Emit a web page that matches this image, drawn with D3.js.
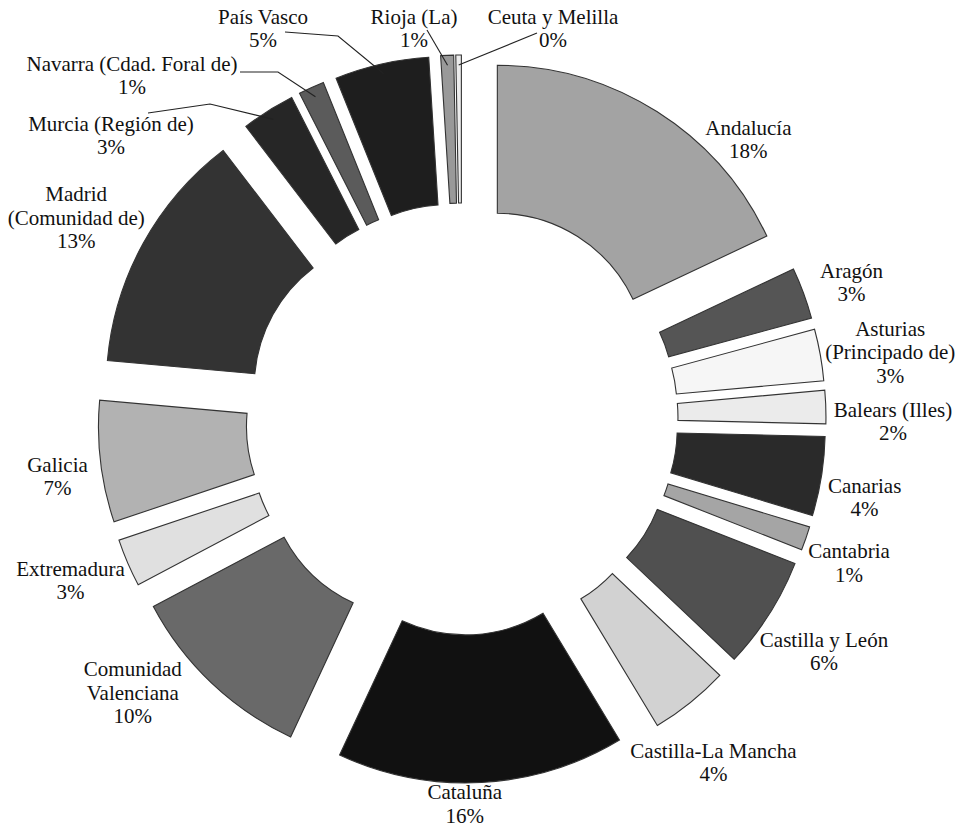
<!DOCTYPE html>
<meta charset="utf-8">
<style>

body {
  margin: 0;
  background: #fff;
}

text {
  font-family: "Liberation Serif", "Times New Roman", serif;
  font-size: 21px;
  fill: #111;
}

.slice {
  stroke: #333;
  stroke-width: 1.1;
}

.leader {
  fill: none;
  stroke: #222;
  stroke-width: 1.1;
}

</style>
<body>
<script src="https://d3js.org/d3.v7.min.js"></script>
<script>

var regions = [
  "Andalucía", "Aragón", "Asturias (Principado de)", "Balears (Illes)", "Canarias",
  "Cantabria", "Castilla y León", "Castilla-La Mancha", "Cataluña",
  "Comunidad Valenciana", "Extremadura", "Galicia", "Madrid (Comunidad de)",
  "Murcia (Región de)", "Navarra (Cdad. Foral de)", "País Vasco", "Rioja (La)",
  "Ceuta y Melilla"
];

// share of the total, in percent
var shares = [18.0, 2.8, 2.8, 1.8, 4.3, 1.3, 6.1, 4.3, 15.6, 10.3, 2.6, 6.6, 13.2, 2.9, 1.4, 5.1, 0.7, 0.3];

var grays = [
  "#a3a3a3", "#555555", "#f6f6f6", "#ebebeb", "#2a2a2a", "#a5a5a5", "#505050",
  "#d2d2d2", "#111111", "#696969", "#e0e0e0", "#b2b2b2", "#333333", "#262626",
  "#5b5b5b", "#1e1e1e", "#999999", "#ececec"
];

// how the names are broken over lines in the labels
var labelLines = [
  ["Andalucía"], ["Aragón"], ["Asturias", "(Principado de)"], ["Balears (Illes)"],
  ["Canarias"], ["Cantabria"], ["Castilla y León"], ["Castilla-La Mancha"],
  ["Cataluña"], ["Comunidad", "Valenciana"], ["Extremadura"], ["Galicia"],
  ["Madrid", "(Comunidad de)"], ["Murcia (Región de)"], ["Navarra (Cdad. Foral de)"],
  ["País Vasco"], ["Rioja (La)"], ["Ceuta y Melilla"]
];

var width = 962,
    height = 829,
    cx = 462,
    cy = 419,
    rIn = 150,
    rOut = 298,
    explode = 66,
    labelR = 372,
    lh = 23.5;

// outside labels that sit a little clockwise of their sector (degrees)
var labelNudge = {"Andalucía": 12.4, "Cataluña": 2.4, "Comunidad Valenciana": 6};

// labels spread apart so they do not crowd (pixels)
var labelShift = {
  "Andalucía": [-6, 1],
  "Aragón": [11, 0],
  "Asturias (Principado de)": [-2, 5],
  "Balears (Illes)": [0, 15],
  "Canarias": [-1, 16],
  "Cantabria": [-3, 14],
  "Castilla y León": [-6, 20],
  "Castilla-La Mancha": [-34, 35],
  "Cataluña": [-2, -11],
  "Comunidad Valenciana": [-9, 9],
  "Extremadura": [0, 5],
  "Galicia": [-5, 11],
  "Madrid (Comunidad de)": [0, -5]
};

// small sectors at the top get callouts: label centre, leader start, elbow
var callouts = {
  "Murcia (Región de)":       {x: 111, y: 135, start: [148, 113], elbow: [210, 104]},
  "Navarra (Cdad. Foral de)": {x: 132, y: 75,  start: [240, 72],  elbow: [278, 72]},
  "País Vasco":               {x: 263, y: 28,  start: [285, 32],  elbow: [338, 36]},
  "Rioja (La)":               {x: 414, y: 28,  start: [427, 30],  elbow: null},
  "Ceuta y Melilla":          {x: 553, y: 28,  start: [537, 33],  elbow: null}
};

var total = d3.sum(shares);

var pie = d3.pie()
    .sort(null)
    .value(function(d) { return d; });

var arc = d3.arc()
    .innerRadius(rIn)
    .outerRadius(rOut);

var svg = d3.select("body").append("svg")
    .attr("width", width)
    .attr("height", height);

var arcs = pie(shares);

function mid(d) { return (d.startAngle + d.endAngle) / 2; }

function offset(d, r) {
  var a = mid(d);
  return [cx + (explode + r) * Math.sin(a), cy - (explode + r) * Math.cos(a)];
}

svg.selectAll(".slice")
    .data(arcs)
  .enter().append("path")
    .attr("class", "slice")
    .attr("d", arc)
    .attr("fill", function(d, i) { return grays[i]; })
    .attr("transform", function(d) {
      var o = offset(d, 0);
      return "translate(" + o[0] + "," + o[1] + ")";
    });

function addLabel(i) {
  var lines = labelLines[i].concat([Math.round(shares[i] / total * 100) + "%"]);
  var t = svg.append("text").attr("text-anchor", "middle");
  var w = 0;
  lines.forEach(function(s, k) {
    var ts = t.append("tspan").attr("x", 0).attr("y", k * lh).text(s);
    w = Math.max(w, ts.node().getComputedTextLength());
  });
  return {node: t, w: w, h: lines.length * lh};
}

function place(lab, bx, by) {
  lab.node.attr("transform", "translate(" + bx + "," + (by - lab.h / 2 + lh / 2 + 7.3) + ")");
}

arcs.forEach(function(d, i) {
  var name = regions[i];
  var lab = addLabel(i);
  var c = callouts[name];
  if (c) {
    place(lab, c.x, c.y);
    var end = offset(d, rOut - 10);
    var pts = [c.start];
    if (c.elbow) pts.push(c.elbow);
    pts.push(end);
    svg.append("path")
        .attr("class", "leader")
        .attr("d", d3.line()(pts));
  } else {
    var a = mid(d) + (labelNudge[name] || 0) * Math.PI / 180;
    var s = labelShift[name] || [0, 0];
    var px = cx + labelR * Math.sin(a),
        py = cy - labelR * Math.cos(a);
    place(lab, px + lab.w / 2 * Math.sin(a) + s[0], py - lab.h / 2 * Math.cos(a) + s[1]);
  }
});

</script>
